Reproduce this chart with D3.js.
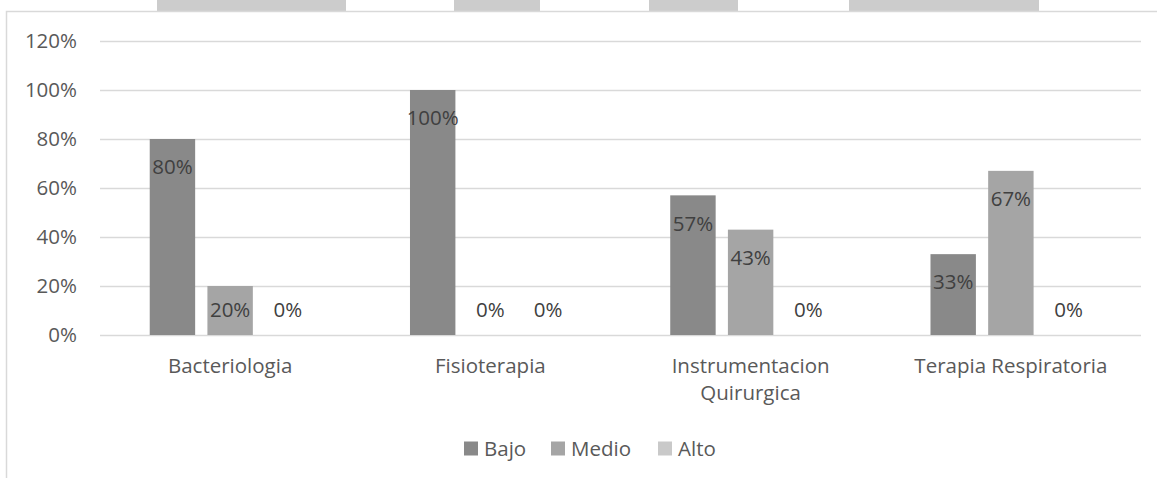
<!DOCTYPE html>
<html>
<head>
<meta charset="utf-8">
<script src="https://cdn.jsdelivr.net/npm/d3@7"></script>
<style>
  body { margin: 0; background: #fff; }
  svg { display: block; font-family: "Open Sans", sans-serif; }
</style>
</head>
<body>
<div id="chart"></div>
<script>
const categories = ['Bacteriologia', 'Fisioterapia', 'Instrumentacion Quirurgica', 'Terapia Respiratoria']
const seriesNames = ['Bajo', 'Medio', 'Alto']
const bajo = [0.80, 1.00, 0.57, 0.33]
const medio = [0.20, 0.00, 0.43, 0.67]
const alto = [0.00, 0.00, 0.00, 0.00]
const yTicks = [0, 0.2, 0.4, 0.6, 0.8, 1.0, 1.2]
const colors = ['#898989', '#a5a5a5', '#c9c9c9']

const width = 1157
const height = 478
const margin = { top: 41, right: 16, bottom: 143, left: 100 }
const textColor = '#595959'
const fontSize = 20.5

const svg = d3.select('#chart')
  .append('svg')
  .attr('width', width)
  .attr('height', height)

// bits of the header row cut off above the chart frame
const headerCells = [[157, 346], [454, 540], [649, 738], [849, 1039]]
svg.append('g')
  .selectAll('rect')
  .data(headerCells)
  .join('rect')
  .attr('x', d => d[0])
  .attr('y', 0)
  .attr('width', d => d[1] - d[0])
  .attr('height', 11)
  .attr('fill', '#cccccc')

// chart frame
svg.append('path')
  .attr('d', `M6.5,${height}V11.5H${width}`)
  .attr('fill', 'none')
  .attr('stroke', '#d9d9d9')
  .attr('stroke-width', 1.5)

const x0 = d3.scaleBand()
  .domain(categories)
  .range([margin.left, width - margin.right])

// Excel style: gap width 219%, overlap -27%
const barW = x0.bandwidth() / (3 + 2 * 0.27 + 2.19)
const x1 = d3.scaleBand()
  .domain(seriesNames)
  .range([0, 3 * barW + 2 * 0.27 * barW])
  .paddingInner(0.27 / 1.27)

const y = d3.scaleLinear()
  .domain([0, 1.2])
  .range([height - margin.bottom, margin.top])

// gridlines + y labels
const yAxis = svg.append('g')
  .attr('transform', `translate(${margin.left},0)`)
  .call(d3.axisLeft(y)
    .tickValues(yTicks)
    .tickSize(-(width - margin.left - margin.right))
    .tickPadding(23)
    .tickFormat(d3.format('.0%')))
yAxis.select('.domain').remove()
yAxis.selectAll('.tick line').attr('stroke', '#d9d9d9').attr('stroke-width', 1.5)
yAxis.selectAll('.tick text')
  .attr('fill', textColor)
  .attr('font-size', fontSize)
  .attr('font-family', '"Open Sans", sans-serif')

const table = categories.map((c, i) => ({
  category: c,
  values: [bajo[i], medio[i], alto[i]]
}))

const groups = svg.append('g')
  .selectAll('g')
  .data(table)
  .join('g')
  .attr('transform', d => `translate(${x0(d.category) + (x0.bandwidth() - x1.range()[1]) / 2},0)`)

groups.selectAll('rect')
  .data(d => d.values.map((v, k) => ({ series: seriesNames[k], value: v, k })))
  .join('rect')
  .attr('x', d => x1(d.series))
  .attr('y', d => y(d.value))
  .attr('width', x1.bandwidth())
  .attr('height', d => y(0) - y(d.value))
  .attr('fill', d => colors[d.k])

// labels sit inside the top of the bar, or just above the axis for short bars
groups.selectAll('text')
  .data(d => d.values.map((v, k) => ({ series: seriesNames[k], value: v })))
  .join('text')
  .attr('x', d => x1(d.series) + x1.bandwidth() / 2)
  .attr('y', d => Math.min(y(d.value) + 28, y(0) - 25))
  .attr('dy', '0.35em')
  .attr('text-anchor', 'middle')
  .attr('font-size', fontSize)
  .attr('fill', '#404040')
  .text(d => d3.format('.0%')(d.value))

// category labels, wrapped like Excel does
const catLabels = {
  'Instrumentacion Quirurgica': ['Instrumentacion', 'Quirurgica']
}
svg.append('g')
  .selectAll('text')
  .data(categories)
  .join('text')
  .attr('x', d => x0(d) + x0.bandwidth() / 2)
  .attr('y', y(0) + 31)
  .attr('text-anchor', 'middle')
  .attr('font-size', fontSize)
  .attr('fill', textColor)
  .selectAll('tspan')
  .data(d => catLabels[d] || [d])
  .join('tspan')
  .attr('x', function () { return d3.select(this.parentNode).attr('x') })
  .attr('dy', (d, i) => i === 0 ? '0.35em' : 27)
  .text(d => d)

// legend
const legendX = [464, 551, 658]
const legend = svg.append('g')
  .selectAll('g')
  .data(seriesNames)
  .join('g')
  .attr('transform', (d, i) => `translate(${legendX[i]},448.5)`)
legend.append('rect')
  .attr('y', -7)
  .attr('width', 14)
  .attr('height', 14)
  .attr('fill', (d, i) => colors[i])
legend.append('text')
  .attr('x', 20)
  .attr('dy', '0.35em')
  .attr('font-size', fontSize)
  .attr('fill', textColor)
  .text(d => d)
</script>
</body>
</html>
